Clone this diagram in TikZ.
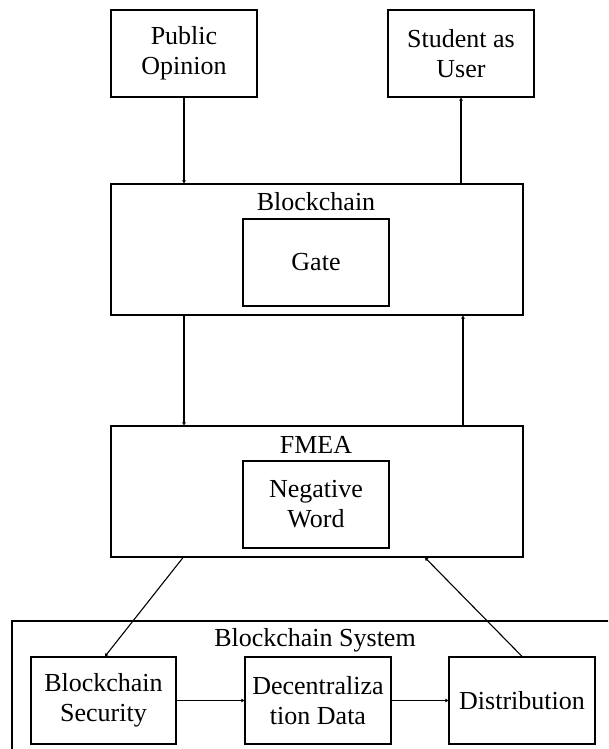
\documentclass[tikz,border=0pt]{standalone}
\usepackage{fontspec}
\setmainfont{Liberation Serif}
\usetikzlibrary{arrows.meta}
\begin{document}
\begin{tikzpicture}[x=1pt,y=-1pt,
  box/.style={draw,line width=1.2pt,inner sep=0pt,align=center,font=\fontsize{26}{30}\selectfont},
  lbl/.style={inner sep=0pt,align=center,font=\fontsize{26}{30}\selectfont},
  arr/.style={line width=1.1pt,-{Triangle[length=3pt,width=3.5pt]}}]
\path[use as bounding box] (0,0) rectangle (608,749);
\clip (0,0) rectangle (608,749);
% top boxes
\node[box,minimum width=146pt,minimum height=87pt] (pub) at (184,53.5) {Public\\Opinion};
\node[box,minimum width=146pt,minimum height=87pt] (stu) at (461,53.5) {Student as\\User};
% Blockchain
\node[box,minimum width=412pt,minimum height=131pt] (bc) at (317,249.5) {};
\node[lbl] (bcl) at (316,202) {Blockchain};
\node[box,minimum width=146pt,minimum height=87pt] (gate) at (316,262.5) {Gate};
% FMEA
\node[box,minimum width=412pt,minimum height=131pt] (fmea) at (317,491.5) {};
\node[lbl] (fmeal) at (316,445) {FMEA};
\node[box,minimum width=146pt,minimum height=87pt] (neg) at (316,504.5) {Negative\\Word};
% Blockchain System
\node[box,minimum width=620pt,minimum height=160pt] (sys) at (322,701) {};
\node[lbl] (sysl) at (315,640) {Blockchain System};
\node[box,minimum width=145pt,minimum height=87pt] (sec) at (103.5,700.5) {Blockchain\\Security};
\node[box,minimum width=146pt,minimum height=87pt] (dec) at (318,700.5) {Decentraliza\\tion Data};
\node[box,minimum width=146pt,minimum height=87pt] (dist) at (522,700.5) {Distribution};
% connectors
\draw[arr] (pub.south) -- (pub.south |- bc.north);
\draw[arr] (stu.south |- bc.north) -- (stu.south);
\draw[arr] (pub.south |- bc.south) -- (pub.south |- fmea.north);
\draw[arr] ([xshift=2pt]stu.south |- fmea.north) -- ([xshift=2pt]stu.south |- bc.south);
\draw[arr] ([xshift=-1pt]pub.south |- fmea.south) -- ([xshift=1.5pt]sec.north);
\draw[arr] (dist.north) -- ([xshift=108pt]fmea.south);
\draw[arr] (sec.east) -- (dec.west);
\draw[arr] (dec.east) -- (dist.west);
\end{tikzpicture}
\end{document}
